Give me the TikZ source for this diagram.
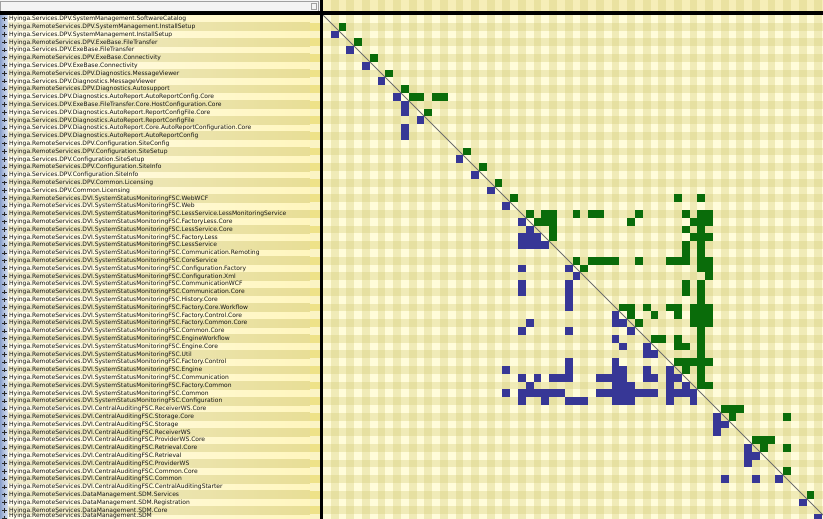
\documentclass[tikz,border=0pt]{standalone}
\usepackage{fontspec}
\newfontfamily\lblfont{DejaVu Sans}
\definecolor{gcol}{RGB}{10,108,10}
\definecolor{bcol}{RGB}{55,55,150}
\definecolor{matbg}{RGB}{255,252,218}
\definecolor{stripecol}{RGB}{214,204,120}
\definecolor{hdrbg}{RGB}{246,238,184}
\definecolor{diagcol}{RGB}{110,110,110}
\definecolor{rowlA}{RGB}{255,252,236}
\definecolor{rowlB}{RGB}{255,246,190}
\definecolor{rowdA}{RGB}{240,236,206}
\definecolor{rowdB}{RGB}{232,222,150}
\definecolor{leftblueA}{RGB}{140,162,204}
\definecolor{leftblueB}{RGB}{222,230,244}
\definecolor{numA}{RGB}{238,226,136}
\definecolor{numB}{RGB}{251,244,196}
\definecolor{lbltext}{RGB}{20,20,20}
\definecolor{plusc}{RGB}{40,40,40}
\definecolor{lhdr}{RGB}{244,244,244}
\definecolor{lhdrline}{RGB}{160,160,160}
\begin{document}
\begin{tikzpicture}[x=1pt,y=-1pt,
  lbl/.style={anchor=west,inner sep=0pt,font=\lblfont\fontsize{6}{6}\selectfont,text=lbltext},
  gcell/.style={fill=gcol},
  bcell/.style={fill=bcol},
  stripe/.style={fill=stripecol,fill opacity=0.35},
  diagline/.style={draw=diagcol,line width=0.9pt},
  plusmark/.style={draw=plusc,line width=0.8pt},
  sepbar/.style={fill=black}]
\useasboundingbox (0,0) rectangle (823,519);
\clip (0,0) rectangle (823,519);
% ---------- left panel ----------
\fill[lhdr] (0,0) rectangle (319.5,11.5);
\draw[lhdrline,line width=0.6pt] (0.5,1) rectangle (318.5,11);
\draw[lhdrline,line width=0.5pt] (311,3) rectangle (316,9);
\shade[left color=leftblueA,right color=leftblueB] (0,14.8) rectangle (8,519);
\foreach \i in {0,2,...,64}
  \shade[left color=rowlA,right color=rowlB] (8,{15+\i*7.8}) rectangle (310,{15+\i*7.8+7.8});
\foreach \i in {1,3,...,63}
  \shade[left color=rowdA,right color=rowdB] (8,{15+\i*7.8}) rectangle (310,{15+\i*7.8+7.8});
\foreach \i in {0,2,...,64}
  \fill[numB] (310,{15+\i*7.8}) rectangle (319.5,{15+\i*7.8+7.8});
\foreach \i in {1,3,...,63}
  \fill[numA] (310,{15+\i*7.8}) rectangle (319.5,{15+\i*7.8+7.8});
% plus marks
\foreach \i in {0,...,64}
  \draw[plusmark] (2.2,{15+\i*7.8+3.9}) -- (6.6,{15+\i*7.8+3.9})
                  (4.4,{15+\i*7.8+1.7}) -- (4.4,{15+\i*7.8+6.1});
% labels
\def\pA{Hyinga.Services.DPV.}
\def\pB{Hyinga.RemoteServices.DPV.}
\def\pC{Hyinga.RemoteServices.DVI.SystemStatusMonitoringFSC.}
\def\pD{Hyinga.RemoteServices.DVI.CentralAuditingFSC.}
\def\pE{Hyinga.RemoteServices.DataManagement.SDM}
\begin{scope}
\clip (8,14.8) rectangle (309,519);
\foreach \t [count=\i from 0] in {
 \pA SystemManagement.SoftwareCatalog,
 \pB SystemManagement.InstallSetup,
 \pA SystemManagement.InstallSetup,
 \pB ExeBase.FileTransfer,
 \pA ExeBase.FileTransfer,
 \pB ExeBase.Connectivity,
 \pA ExeBase.Connectivity,
 \pB Diagnostics.MessageViewer,
 \pA Diagnostics.MessageViewer,
 \pB Diagnostics.Autosupport,
 \pA Diagnostics.AutoReport.AutoReportConfig.Core,
 \pA ExeBase.FileTransfer.Core.HostConfiguration.Core,
 \pA Diagnostics.AutoReport.ReportConfigFile.Core,
 \pA Diagnostics.AutoReport.ReportConfigFile,
 \pA Diagnostics.AutoReport.Core.AutoReportConfiguration.Core,
 \pA Diagnostics.AutoReport.AutoReportConfig,
 \pB Configuration.SiteConfig,
 \pB Configuration.SiteSetup,
 \pA Configuration.SiteSetup,
 \pB Configuration.SiteInfo,
 \pA Configuration.SiteInfo,
 \pB Common.Licensing,
 \pA Common.Licensing,
 \pC WebWCF,
 \pC Web,
 \pC LessService.LessMonitoringService,
 \pC FactoryLess.Core,
 \pC LessService.Core,
 \pC Factory.Less,
 \pC LessService,
 \pC Communication.Remoting,
 \pC CoreService,
 \pC Configuration.Factory,
 \pC Configuration.Xml,
 \pC CommunicationWCF,
 \pC Communication.Core,
 \pC History.Core,
 \pC Factory.Core.Workflow,
 \pC Factory.Control.Core,
 \pC Factory.Common.Core,
 \pC Common.Core,
 \pC EngineWorkflow,
 \pC Engine.Core,
 \pC Util,
 \pC Factory.Control,
 \pC Engine,
 \pC Communication,
 \pC Factory.Common,
 \pC Common,
 \pC Configuration,
 \pD ReceiverWS.Core,
 \pD Storage.Core,
 \pD Storage,
 \pD ReceiverWS,
 \pD ProviderWS.Core,
 \pD Retrieval.Core,
 \pD Retrieval,
 \pD ProviderWS,
 \pD Common.Core,
 \pD Common,
 \pD CentralAuditingStarter,
 \pE.Services,
 \pE.Registration,
 \pE.Core}
 \node[lbl] (l\i) at (9,{15+\i*7.8+4.0}) {\t};
\node[lbl] (l64) at (9,515.6) {\pE};
\end{scope}
% ---------- matrix ----------
\fill[matbg] (323,14.8) rectangle (823,519);
\fill[hdrbg] (323,0) rectangle (823,11.5);
\foreach \k in {1,3,...,63}
  \fill[stripe] ({323+\k*7.8},0) rectangle ++(7.8,519);
\foreach \r in {1,3,...,63}
  \fill[stripe] (323,{15+\r*7.8}) rectangle ++(500,7.8);
% green cells (above diagonal)
\foreach \r/\k in {1/2,3/4,5/6,7/8,9/10,10/11,10/12,10/14,10/15,12/13,17/18,19/20,21/22,23/24,23/45,23/48,
 25/26,25/28,25/29,25/32,25/34,25/35,25/40,25/46,25/48,25/49,
 26/27,26/28,26/29,26/39,26/47,26/48,26/49,
 27/29,27/46,27/48,
 28/29,28/47,28/48,28/49,
 29/46,29/48,30/46,30/48,
 31/32,31/34,31/35,31/36,31/37,31/40,31/44,31/45,31/46,31/48,31/49,
 32/33,32/48,32/49,33/49,
 34/46,34/48,35/46,35/48,36/48,
 37/38,37/39,37/41,37/44,37/45,37/47,37/48,37/49,
 38/39,38/42,38/45,38/47,38/48,38/49,
 39/40,39/47,39/48,39/49,
 40/48,
 41/42,41/43,41/45,41/48,
 42/45,42/46,42/48,
 43/48,
 44/45,44/46,44/47,44/48,44/49,
 45/46,45/48,46/48,47/48,47/49,
 50/51,50/52,50/53,51/52,51/59,
 54/55,54/56,54/57,55/56,55/59,58/59,61/62}
  \fill[gcell] ({323+\k*7.8},{15+\r*7.8}) rectangle ++(7.8,7.8);
% blue cells (below diagonal)
\foreach \r/\k in {2/1,4/3,6/5,8/7,10/9,11/10,12/10,13/12,14/10,15/10,18/17,20/19,22/21,24/23,
 26/25,27/26,28/25,28/26,28/27,29/25,29/26,29/27,29/28,
 32/25,32/31,33/32,34/25,34/31,35/25,35/31,36/31,37/31,
 38/37,39/26,39/37,39/38,40/25,40/31,40/39,41/37,42/38,42/41,43/41,43/42,
 44/31,44/37,
 45/23,45/31,45/37,45/38,45/41,45/44,
 46/25,46/27,46/29,46/30,46/31,46/35,46/36,46/37,46/38,46/41,46/42,46/44,46/45,
 47/26,47/37,47/38,47/39,47/44,47/46,
 48/23,48/25,48/26,48/27,48/28,48/29,48/30,48/35,48/36,48/37,48/38,48/39,48/40,48/41,48/42,48/44,48/45,48/46,48/47,
 49/25,49/28,49/31,49/32,49/33,49/37,49/38,49/39,49/44,49/47,
 51/50,52/50,52/51,53/50,55/54,56/54,56/55,57/54,59/51,59/55,59/58,62/61,64/63}
  \fill[bcell] ({323+\k*7.8},{15+\r*7.8}) rectangle ++(7.8,7.8);
% diagonal
\coordinate (d0) at (323,15);
\coordinate (d1) at ({323+66*7.8},{15+66*7.8});
\draw[diagline] (d0) -- (d1);
% separators
\fill[sepbar] (0,11.5) rectangle (823,14.8);
\fill[sepbar] (319.5,0) rectangle (323,519);
\end{tikzpicture}
\end{document}
